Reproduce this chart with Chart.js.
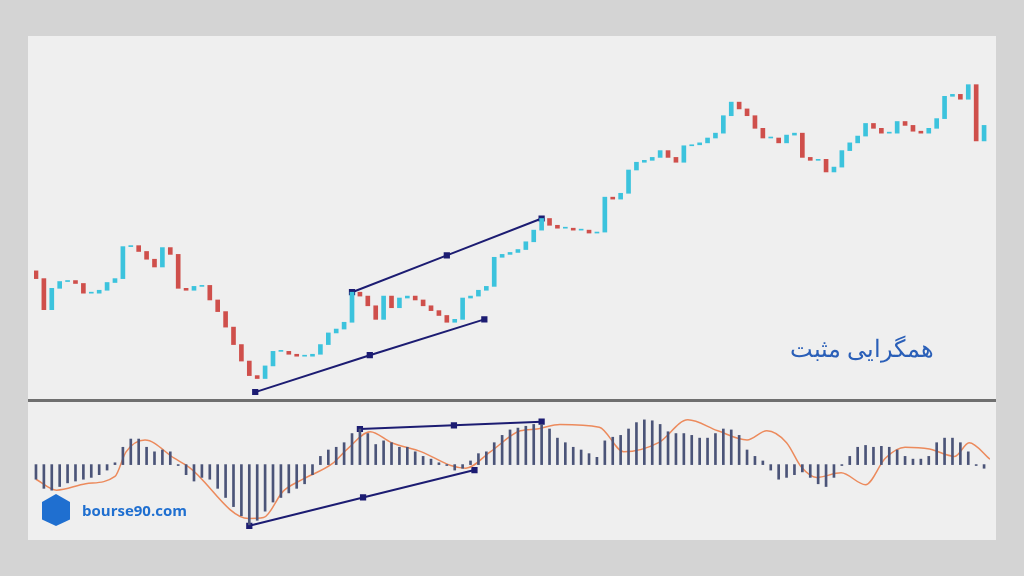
<!DOCTYPE html>
<html>
<head>
<meta charset="utf-8">
<script src="https://cdn.jsdelivr.net/npm/chart.js@4.4.0/dist/chart.umd.min.js"></script>
<style>
  body { margin: 0; width: 1024px; height: 576px; background: #d4d4d4; position: relative; overflow: hidden; font-family: "Open Sans", sans-serif; }
  #panel { position: absolute; left: 28px; top: 36px; width: 968px; height: 504px; background: #efefef; }
  #top { position: absolute; left: 28px; top: 36px; }
  #bottom { position: absolute; left: 28px; top: 402px; }
  #divider { position: absolute; left: 28px; top: 399px; width: 968px; height: 3px; background: #6f6f6f; }
  #title { position: absolute; left: 790px; top: 331px; font-family: "Noto Sans", sans-serif; font-size: 24px; color: #2a5fb8; direction: rtl; }
  #logo { position: absolute; left: 42px; top: 494px; display: flex; align-items: center; }
  #logo .cube { width: 28px; height: 32px; background: #1f6fd0; margin-right: 12px; clip-path: polygon(50% 0, 100% 25%, 100% 80%, 50% 100%, 0 80%, 0 25%); }
  #logo span { color: #1f6fd0; font-weight: bold; font-size: 15px; }
</style>
</head>
<body>
<div id="panel"></div>
<canvas id="top" width="968" height="365"></canvas>
<div id="divider"></div>
<canvas id="bottom" width="968" height="138"></canvas>
<div id="title">همگرایی مثبت</div>
<div id="logo"><div class="cube"></div><span>bourse90.com</span></div>
<script>
// closing prices, one candle per step (open = previous close)
const closes = [120,88,110,117,118,115,105,105,108,116,120,153,154,148,140,132,152,145,110,108,
  112,113,98,86,70,52,35,20,17,30,45,45,42,40,40,42,52,64,68,75,
  106,102,92,78,102,90,100,102,98,92,87,82,75,78,100,102,108,112,142,145,
  147,150,158,170,182,175,172,172,170,170,167,168,204,202,208,232,240,242,245,252,
  245,240,257,258,260,265,270,288,302,295,288,275,265,265,260,268,270,245,242,243,
  230,235,252,260,267,280,275,270,270,282,278,272,270,275,285,308,310,305,320,262,278];
const firstOpen = 128;

// MACD histogram, same steps
const macdHist = [-16,-26,-28,-24,-20,-18,-16,-14,-11,-6,2,19,28,28,19,14,16,14,-1,-11,
  -18,-14,-16,-26,-36,-46,-56,-66,-61,-51,-41,-36,-31,-26,-21,-11,9,16,19,24,
  34,39,34,22,26,24,19,19,14,9,6,2,-1,-6,-4,4,12,14,24,32,
  38,40,42,44,44,39,29,24,19,16,12,8,26,30,32,39,46,49,48,44,
  36,34,34,32,29,29,34,39,38,32,16,9,4,-6,-16,-14,-11,-8,-14,-21,
  -24,-14,-1,9,19,21,19,20,19,16,9,6,6,9,24,29,29,24,14,-1,-4];

// signal line points (step index, value)
const signalIdx = [0,2.6,6.3,10,11.4,13.8,17.5,19.4,26.9,28.8,31.3,33.8,37.5,39.4,42.3,45,48.8,52.5,54.4,57.5,61.3,
  63.4,66.3,71.3,74.4,78.8,82.5,86.3,90,92.5,95,96.9,98.8,101.9,105,107.5,110,113.1,116.3,118.1,120.75];
const signalVal = [-16,-28,-21,-13,14,27,7,-3,-59,-58,-29,-16,1,17,36,24,14,-1,-4,14,37,
  39,44,41,14,24,49,37,27,37,24,-3,-14,-9,-22,7,19,17,9,24,6];

// divergence lines
const priceTop = [{x:40,y:106},{x:52,y:144},{x:64,y:182}];
const priceLow = [{x:27.75,y:3},{x:42.25,y:41},{x:56.75,y:78}];
const macdTop = [{x:41,y:39},{x:52.9,y:43},{x:64,y:47}];
const macdLow = [{x:27,y:-67},{x:41.4,y:-36},{x:55.5,y:-6}];

const UP = '#3cc3dd', DOWN = '#cf4f4b', NAVY = '#1c1c72';

const candles = closes.map((c, i) => ({ x: i, y: [i === 0 ? firstOpen : closes[i - 1], c] }));
const candleColors = candles.map(d => d.y[1] >= d.y[0] ? UP : DOWN);

const xAxis = { type: 'linear', min: -0.25, max: 120.75, offset: false, display: false };

function lineSet(data) {
  return { type: 'line', data, borderColor: NAVY, borderWidth: 2, pointStyle: 'rect',
    pointRadius: 3, pointBackgroundColor: NAVY, pointBorderColor: NAVY };
}

const common = { responsive: false, animation: false, layout: { padding: 0 },
  plugins: { legend: { display: false }, tooltip: { enabled: false } } };

new Chart(document.getElementById('top'), {
  type: 'bar',
  data: { datasets: [
    { data: candles, backgroundColor: candleColors, barThickness: 4, minBarLength: 1 },
    lineSet(priceTop), lineSet(priceLow)
  ] },
  options: { ...common, scales: { x: xAxis, y: { min: 0, max: 364, display: false } } }
});

new Chart(document.getElementById('bottom'), {
  type: 'bar',
  data: { datasets: [
    { data: macdHist.map((v, i) => ({ x: i, y: v })), backgroundColor: '#4b5478', barThickness: 2 },
    { type: 'line', data: signalIdx.map((x, i) => ({ x, y: signalVal[i] })), borderColor: '#ec8a5c',
      borderWidth: 1.5, pointRadius: 0, cubicInterpolationMode: 'monotone' },
    lineSet(macdTop), lineSet(macdLow)
  ] },
  options: { ...common, scales: { x: xAxis, y: { min: -76, max: 62, display: false } } }
});
</script>
</body>
</html>
